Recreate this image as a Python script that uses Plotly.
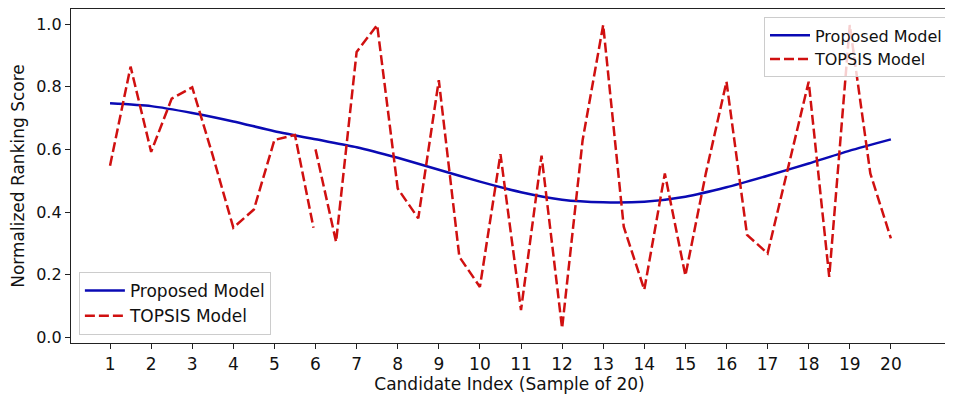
import plotly.graph_objects as go

# Proposed model (smooth curve) at integer candidate indices
prop_x = list(range(1, 21))
prop_y = [0.747, 0.738, 0.716, 0.689, 0.658, 0.632, 0.607, 0.573, 0.535, 0.497,
          0.463, 0.439, 0.431, 0.433, 0.449, 0.479, 0.516, 0.555, 0.596, 0.632]

# TOPSIS model (half-step samples; line broken at index 6)
topsis_x = [1, 1.5, 2, 2.5, 3, 3.5, 4, 4.5, 5, 5.5, 5.95, None,
            6, 6.5, 7, 7.5, 8, 8.5, 9, 9.5, 10, 10.5, 11, 11.5, 12, 12.5, 13,
            13.5, 14, 14.5, 15, 15.5, 16, 16.5, 17, 17.5, 18, 18.5, 19, 19.5, 20]
topsis_y = [0.548, 0.864, 0.592, 0.762, 0.798, 0.58, 0.350, 0.408, 0.630, 0.646, 0.350, None,
            0.600, 0.305, 0.911, 0.997, 0.475, 0.380, 0.821, 0.257, 0.161, 0.585, 0.087, 0.580, 0.029, 0.630, 0.997,
            0.353, 0.152, 0.523, 0.197, 0.525, 0.816, 0.327, 0.268, 0.540, 0.816, 0.193, 0.997, 0.523, 0.316]

x_ticks = list(range(1, 21))
y_ticks = [0.0, 0.2, 0.4, 0.6, 0.8, 1.0]

BLUE = "#0a0ab4"
RED = "#d01010"
FONT = "DejaVu Sans"

fig = go.Figure()
fig.add_trace(go.Scatter(x=prop_x, y=prop_y, mode="lines", name="Proposed Model",
                         line=dict(color=BLUE, width=2.5, shape="spline", smoothing=0.6),
                         legend="legend"))
fig.add_trace(go.Scatter(x=topsis_x, y=topsis_y, mode="lines", name="TOPSIS Model",
                         connectgaps=False,
                         line=dict(color=RED, width=2.5, dash="10px,4px"),
                         legend="legend"))
# legend-only copies for second legend
fig.add_trace(go.Scatter(x=[None], y=[None], mode="lines", name="Proposed Model",
                         line=dict(color=BLUE, width=2.5), legend="legend2"))
fig.add_trace(go.Scatter(x=[None], y=[None], mode="lines", name="TOPSIS Model",
                         line=dict(color=RED, width=2.5, dash="10px,4px"), legend="legend2"))

axis_common = dict(showgrid=False, zeroline=False, showline=True, linecolor="#222222",
                   linewidth=1.3, mirror=True, ticks="outside", ticklen=5, tickwidth=1.2,
                   tickcolor="#222222")

fig.update_layout(
    width=945, height=386,
    margin=dict(l=63, r=5, t=1, b=51),
    paper_bgcolor="white", plot_bgcolor="white",
    font=dict(family=FONT, size=16, color="#111111"),
    xaxis=dict(range=[0.05, 21.39], tickmode="array", tickvals=x_ticks,
               tickfont=dict(family=FONT, size=17, color="#111111"),
               title=dict(text="Candidate Index (Sample of 20)", font=dict(family=FONT, size=17), standoff=4),
               **axis_common),
    yaxis=dict(range=[-0.018, 1.048], tickmode="array", tickvals=y_ticks,
               ticktext=[f"{v:.1f}" for v in y_ticks],
               tickfont=dict(family=FONT, size=16, color="#111111"),
               title=dict(text="Normalized Ranking Score", font=dict(family=FONT, size=17), standoff=7),
               **axis_common),
    legend=dict(x=1.0, y=0.975, xanchor="right", yanchor="top",
                bgcolor="rgba(255,255,255,0.8)", bordercolor="#cccccc", borderwidth=1,
                font=dict(family=FONT, size=16), itemwidth=40, tracegroupgap=0),
    legend2=dict(x=0.009, y=0.024, xanchor="left", yanchor="bottom",
                 bgcolor="rgba(255,255,255,0.8)", bordercolor="#cccccc", borderwidth=1,
                 font=dict(family=FONT, size=17), itemwidth=40, tracegroupgap=0),
    showlegend=True,
)

fig.write_html("out.html")
